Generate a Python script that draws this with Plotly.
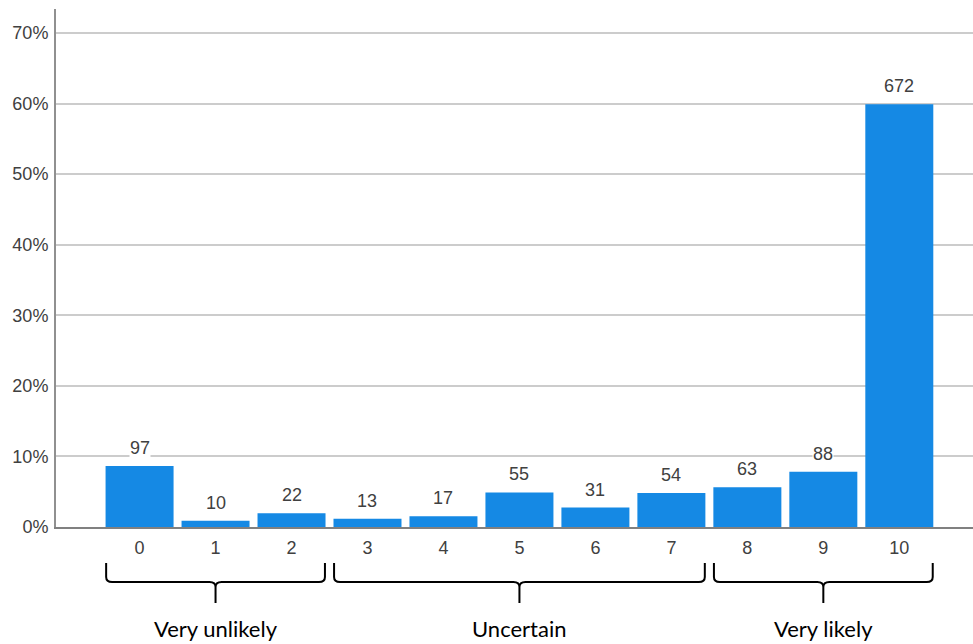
import plotly.graph_objects as go

categories = ["0", "1", "2", "3", "4", "5", "6", "7", "8", "9", "10"]
counts = [97, 10, 22, 13, 17, 55, 31, 54, 63, 88, 672]
y_ticks = [0, 10, 20, 30, 40, 50, 60, 70]
groups = [("Very unlikely", 0, 2), ("Uncertain", 3, 7), ("Very likely", 8, 10)]

total = sum(counts)
pct = [c / total * 100 for c in counts]
xpos = list(range(len(categories)))

X_RANGE = [-1.1, 10.97]
Y_RANGE = [0, 73.4]
W, H = 973, 644
ML, MR, MT, MB = 56, 0, 9, 117
PW, PH = W - ML - MR, H - MT - MB

fig = go.Figure(go.Bar(
    x=xpos, y=pct,
    marker=dict(color="#1589E4", line=dict(width=0)),
    hoverinfo="skip",
))

def xp(v):
    return (v - X_RANGE[0]) / (X_RANGE[1] - X_RANGE[0])

def yp(py):
    return (MT + PH - py) / PH

shapes = []
annotations = []
for xi, yi, c in zip(xpos, pct, counts):
    annotations.append(dict(text=str(c), x=xi, y=yi, xref="x", yref="y",
                            showarrow=False, xanchor="center", yanchor="bottom",
                            yshift=7, bgcolor="white", borderpad=0,
                            font=dict(family="Liberation Sans, Arial", size=18, color="#404040")))

for label, lo, hi in groups:
    x0, x1, xc = xp(lo - 0.44), xp(hi + 0.44), xp((lo + hi) / 2)
    ytop, yh, ytip = yp(563), yp(582), yp(603)
    rx = 6 / PW
    ry = 5 / PH
    path = (
        f"M {x0},{ytop} L {x0},{yh + ry} Q {x0},{yh} {x0 + rx},{yh} "
        f"L {xc - rx},{yh} Q {xc},{yh} {xc},{yh - ry} L {xc},{ytip} "
        f"M {xc},{yh - ry} Q {xc},{yh} {xc + rx},{yh} "
        f"L {x1 - rx},{yh} Q {x1},{yh} {x1},{yh + ry} L {x1},{ytop}"
    )
    shapes.append(dict(type="path", path=path, xref="paper", yref="paper",
                       line=dict(color="black", width=2)))
    annotations.append(dict(text=label, x=xc, y=yp(643), xref="paper", yref="paper",
                            showarrow=False, xanchor="center", yanchor="bottom", borderpad=0,
                            font=dict(family="Lato, Carlito, Calibri", size=22, color="black")))

fig.update_layout(
    width=W, height=H,
    margin=dict(l=ML, r=MR, t=MT, b=MB, pad=0),
    paper_bgcolor="white", plot_bgcolor="white",
    bargap=0.105, showlegend=False,
    shapes=shapes, annotations=annotations,
    xaxis=dict(
        range=X_RANGE, tickmode="array", tickvals=xpos, ticktext=categories,
        showgrid=False, zeroline=False, showline=True, linecolor="#808080", linewidth=2,
        ticks="", tickfont=dict(family="Liberation Sans, Arial", size=18, color="#404040"),
        ticklabelstandoff=3, fixedrange=True,
    ),
    yaxis=dict(
        range=Y_RANGE, tickmode="array", tickvals=y_ticks,
        ticktext=[f"{t}%" for t in y_ticks],
        showgrid=True, gridcolor="#cccccc", gridwidth=1.5, zeroline=False,
        showline=True, linecolor="#909090", linewidth=2, ticks="",
        tickfont=dict(family="Liberation Sans, Arial", size=18, color="#404040"),
        ticklabelstandoff=2, fixedrange=True,
    ),
)

fig.write_html("out.html", config={"displayModeBar": False},
               post_script="document.body.style.margin='0';")
